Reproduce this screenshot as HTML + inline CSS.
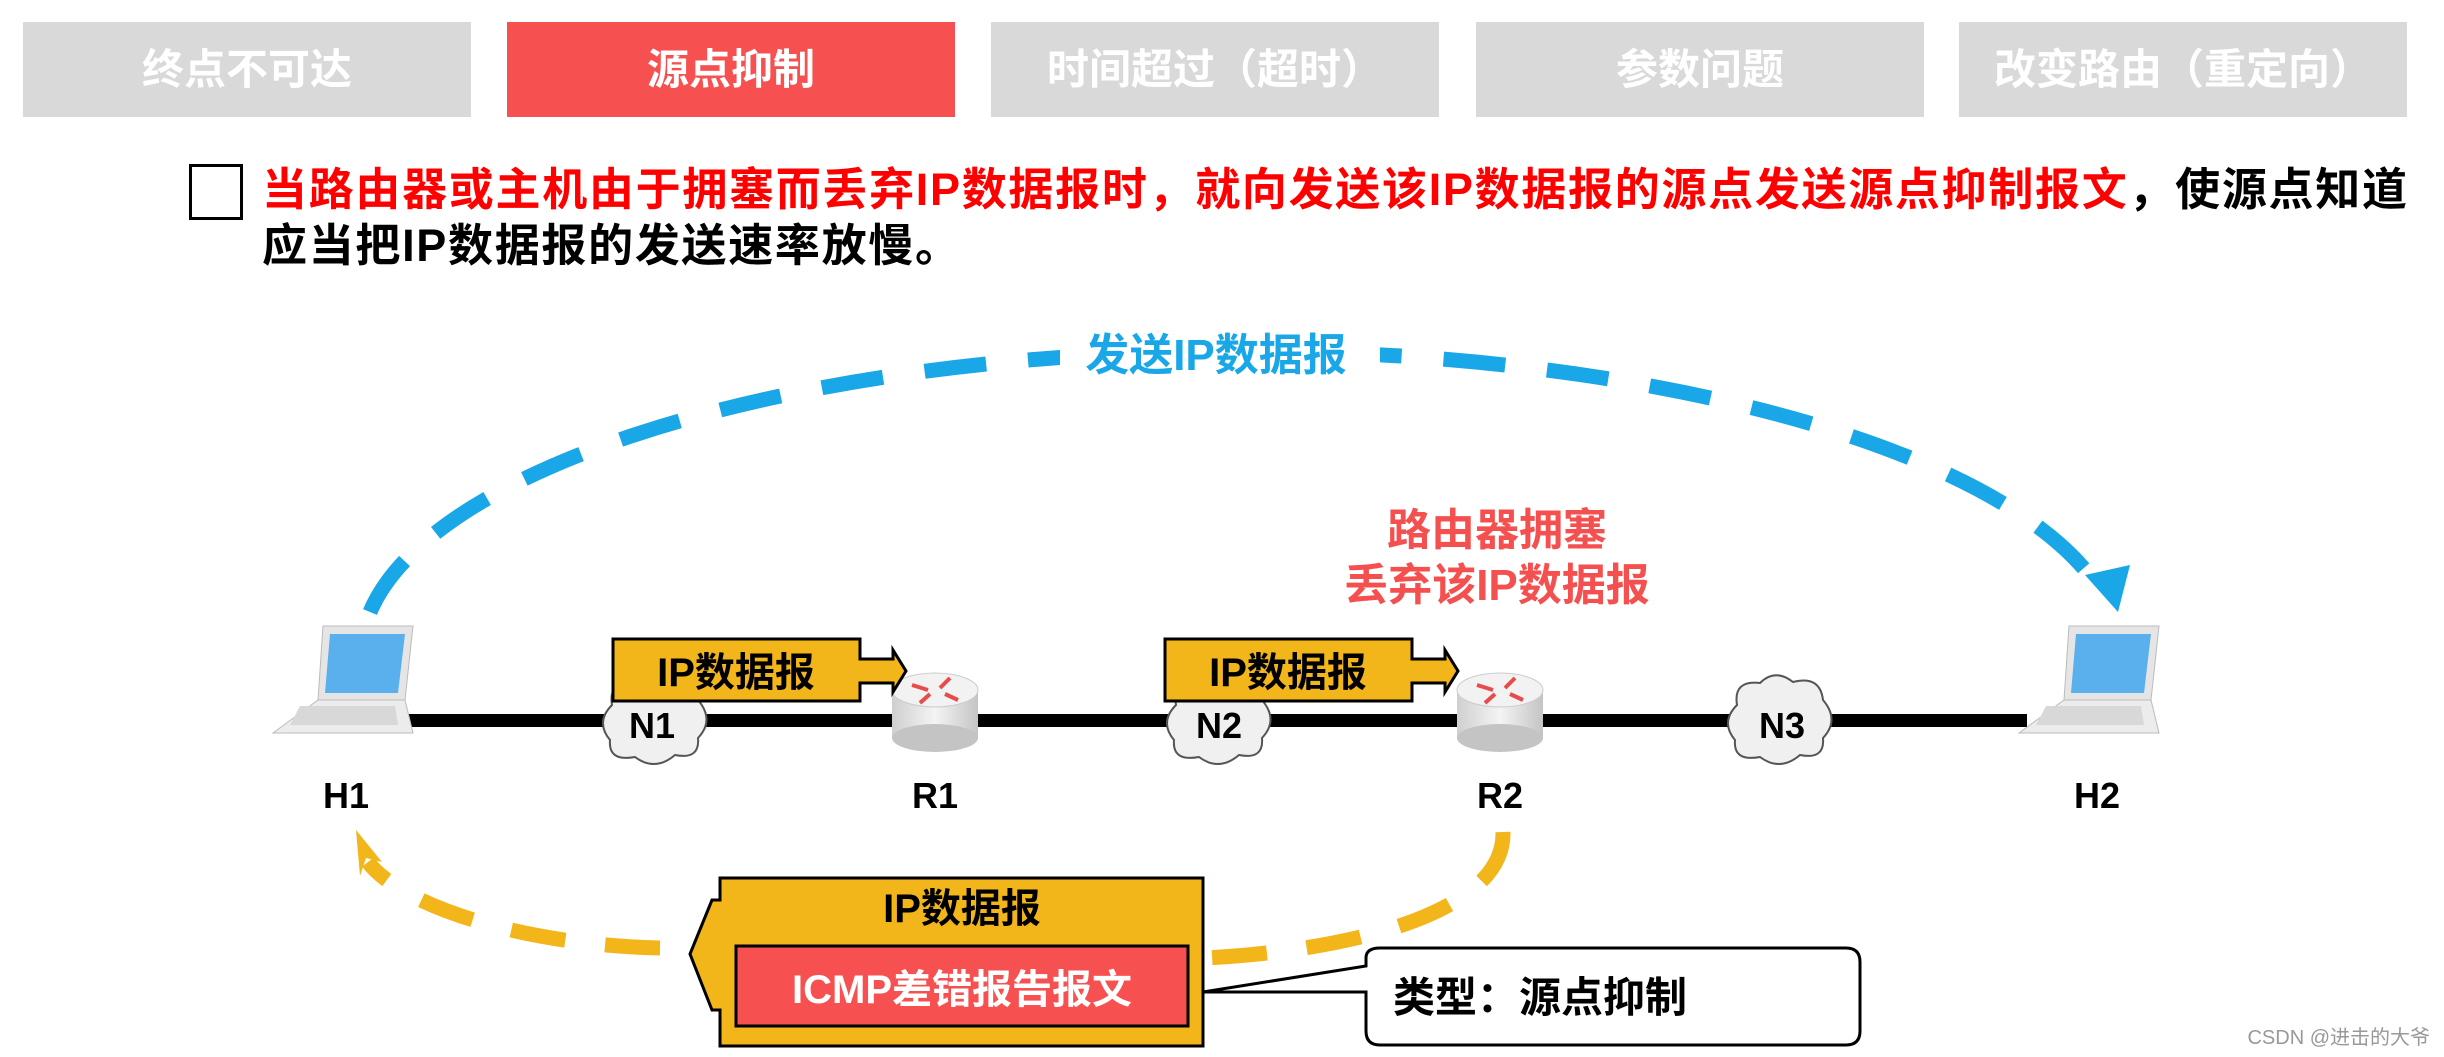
<!DOCTYPE html>
<html><head><meta charset="utf-8"><style>
body{margin:0;background:#fff;width:2444px;height:1057px;overflow:hidden;position:relative;font-family:"Liberation Sans","Noto Sans CJK SC",sans-serif;font-weight:bold}
.tab{position:absolute;top:22px;height:95px;width:448px;background:#d9d9d9;color:#fff;font-size:42px;text-align:center;line-height:95px}
.t{position:absolute;white-space:nowrap}
</style></head><body>
<div class="tab" style="left:23px">终点不可达</div>
<div class="tab" style="left:507px;background:#f75050">源点抑制</div>
<div class="tab" style="left:991px">时间超过（超时）</div>
<div class="tab" style="left:1476px">参数问题</div>
<div class="tab" style="left:1959px">改变路由（重定向）</div>
<div style="position:absolute;left:189px;top:164px;width:48px;height:50px;border:3px solid #000"></div>
<div class="t" style="left:262px;top:162px;font-size:45px;line-height:56px;letter-spacing:1.7px"><span style="color:#f00">当路由器或主机由于拥塞而丢弃IP数据报时，就向发送该IP数据报的源点发送源点抑制报文</span>，使源点知道<br>应当把IP数据报的发送速率放慢。</div>

<svg width="2444" height="1057" style="position:absolute;left:0;top:0">
<defs>
<linearGradient id="rg" x1="0" x2="1"><stop offset="0" stop-color="#cfcfcf"/><stop offset=".5" stop-color="#f4f4f4"/><stop offset="1" stop-color="#c4c4c4"/></linearGradient>
</defs>
<path d="M370 612 A880 305 0 0 1 2100 590" fill="none" stroke="#1aa7e8" stroke-width="15" stroke-dasharray="62 42"/>
<polygon points="2085,575 2130,565 2118,612" fill="#1aa7e8"/>
<rect x="1060" y="320" width="320" height="70" fill="#fff"/>
<text x="1216" y="370" font-size="44" fill="#1aa7e8" text-anchor="middle" font-weight="bold">发送IP数据报</text>
<text x="1497" y="545" font-size="44" fill="#f55050" text-anchor="middle" font-weight="bold">路由器拥塞</text>
<text x="1497" y="600" font-size="44" fill="#f55050" text-anchor="middle" font-weight="bold">丢弃该IP数据报</text>
<rect x="397" y="714" width="1630" height="13" fill="#000"/>
<g id="cl" fill="#f0f0f0" stroke="#555" stroke-width="2">
<path d="M612 705 Q608 680 635 683 Q650 668 668 682 Q695 675 698 700 Q715 720 698 738 Q700 760 675 755 Q655 772 635 757 Q608 762 610 740 Q595 722 612 705 Z"/>
</g>
<use href="#cl" x="564"/><use href="#cl" x="1125"/>
<g font-size="36" text-anchor="middle" font-weight="bold"><text x="652" y="738">N1</text><text x="1219" y="738">N2</text><text x="1782" y="738">N3</text></g>
<g id="r"><rect x="892" y="690" width="86" height="48" fill="url(#rg)"/><ellipse cx="935" cy="738" rx="43" ry="14" fill="#c4c4c4"/><ellipse cx="935" cy="690" rx="43" ry="17" fill="#f2f2f2" stroke="#ccc"/>
<g stroke="#e84b4b" stroke-width="4"><line x1="912" y1="685" x2="928" y2="690"/><line x1="940" y1="688" x2="950" y2="678"/><line x1="945" y1="694" x2="958" y2="700"/><line x1="930" y1="694" x2="920" y2="703"/></g></g>
<use href="#r" x="565"/>
<g id="lp"><polygon points="323,626 413,626 405,700 318,700" fill="#e5e5e5" stroke="#bbb"/><polygon points="330,634 405,634 398,693 325,693" fill="#5ab0ec"/><polygon points="318,700 405,700 413,733 273,733" fill="#ececec" stroke="#bbb"/><polygon points="300,706 395,706 398,725 290,725" fill="#d8d8d8"/></g>
<use href="#lp" x="1746"/>
<g font-size="36" text-anchor="middle" font-weight="bold"><text x="346" y="808">H1</text><text x="935" y="808">R1</text><text x="1500" y="808">R2</text><text x="2097" y="808">H2</text></g>
<g id="ib"><polygon points="613,639 860,639 860,659 893,659 893,650 906,671 893,692 893,683 860,683 860,701 613,701" fill="#f2b51a" stroke="#000" stroke-width="3"/>
<text x="736" y="686" font-size="40" text-anchor="middle" font-weight="bold">IP数据报</text></g>
<use href="#ib" x="552"/>
<g fill="none" stroke="#f2b51a" stroke-width="15" stroke-dasharray="55 40">
<path d="M1503 832 C1505 910 1360 950 1205 958"/>
<path d="M660 948 C520 945 400 905 368 862"/>
</g>
<polygon points="356,830 382,862 366,858 360,876" fill="#f2b51a"/>
<polygon points="720,878 1203,878 1203,1046 720,1046 720,1010 712,1010 690,954 712,900 720,900" fill="#f2b51a" stroke="#000" stroke-width="3"/>
<text x="962" y="922" font-size="40" text-anchor="middle" font-weight="bold">IP数据报</text>
<rect x="736" y="946" width="452" height="80" fill="#f75050" stroke="#000" stroke-width="3"/>
<text x="962" y="1003" font-size="40" fill="#fff" text-anchor="middle" font-weight="bold">ICMP差错报告报文</text>
<path d="M1203 992 L1366 966 L1366 958 Q1366 948 1380 948 L1846 948 Q1860 948 1860 962 L1860 1031 Q1860 1045 1846 1045 L1380 1045 Q1366 1045 1366 1031 L1366 992 Z" fill="#fff" stroke="#000" stroke-width="3"/>
<text x="1393" y="1012" font-size="42" font-weight="bold">类型：源点抑制</text>
<text x="2430" y="1044" font-size="20" fill="#999" text-anchor="end" font-weight="normal">CSDN @进击的大爷</text>
</svg>
</body></html>
